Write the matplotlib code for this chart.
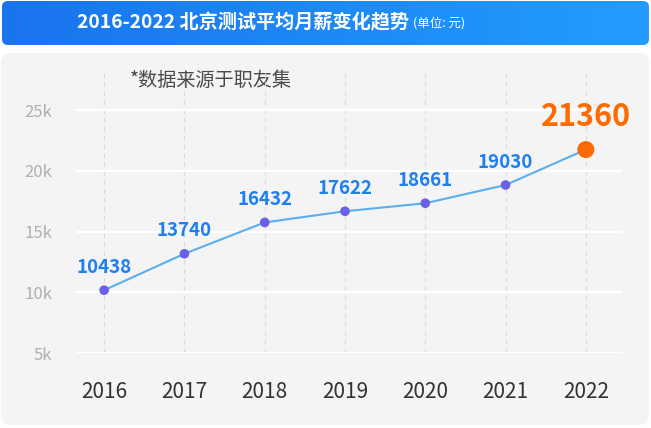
import numpy as np
import matplotlib
matplotlib.use("Agg")
import matplotlib.pyplot as plt
from matplotlib.patches import FancyBboxPatch

plt.rcParams['font.family'] = ['Noto Sans CJK SC', 'DejaVu Sans']

years = ['2016', '2017', '2018', '2019', '2020', '2021', '2022']
salary_labels = ['10438', '13740', '16432', '17622', '18661', '19030', '21360']
# point heights as drawn in the picture (not exactly the label values)
salary_y = [10170, 13170, 15750, 16670, 17330, 18830, 21750]
y_ticks = [5000, 10000, 15000, 20000, 25000]
y_tick_labels = ['5k', '10k', '15k', '20k', '25k']

title = '2016-2022 北京测试平均月薪变化趋势'
unit = '(单位: 元)'
note = '*数据来源于职友集'

fig = plt.figure(figsize=(6.51, 4.28), dpi=100)
fig.patch.set_facecolor('white')

# header banner with a horizontal gradient
bg = fig.add_axes([0, 0, 1, 1], zorder=-5)
bg.set_xlim(0, 651)
bg.set_ylim(428, 0)
bg.axis('off')
grad = np.linspace(0, 1, 256)[None, :]
cmap = matplotlib.colors.LinearSegmentedColormap.from_list('hdr', ['#1a74ee', '#229dff'])
im = bg.imshow(grad, extent=[0, 651, 46, 0], aspect='auto', cmap=cmap)
clip = FancyBboxPatch((2, 1), 647, 44, boxstyle='round,pad=0,rounding_size=6',
                      transform=bg.transData, facecolor='none', edgecolor='none')
bg.add_patch(clip)
im.set_clip_path(clip)
bg.add_patch(FancyBboxPatch((1, 53), 648, 372, boxstyle='round,pad=0,rounding_size=10',
                            facecolor='#f4f4f4', edgecolor='none'))
t = bg.text(77, 23, title, color='white', fontsize=13.8, fontweight='bold', va='center', ha='left')
bg.annotate(unit, xy=(1, 0.5), xycoords=t, xytext=(4, 0), textcoords='offset pixels',
            color='white', fontsize=9, va='center', ha='left')
bg.text(130, 80, note, color='#4a4a4a', fontsize=13.8, va='center', ha='left')

ax = fig.add_axes([76 / 651, 75 / 428, 546 / 651, 283 / 428])
ax.set_facecolor('none')
x = np.arange(len(years))
ax.set_xlim(-0.35, 6.45)
ax.set_ylim(5000, 28300)
for s in ax.spines.values():
    s.set_visible(False)

for yt in y_ticks:
    ax.axhline(yt, color='white', lw=1.6, zorder=1)
for xi in x:
    ax.axvline(xi, color='#dadada', lw=0.8, ls=(0, (4, 4)), zorder=0.5)

ax.plot(x, salary_y, color='#5aaff0', lw=1.5, zorder=3)
ax.scatter(x[:-1], salary_y[:-1], s=48, color='#6a5fe6', zorder=4, edgecolors='none')
ax.scatter(x[-1:], salary_y[-1:], s=150, color='#ff6a00', zorder=4, edgecolors='none')

for i in range(len(years) - 1):
    ax.annotate(salary_labels[i], (x[i], salary_y[i]), xytext=(0, 23), textcoords='offset pixels',
                ha='center', va='center', color='#1e7ff0', fontsize=13.5, fontweight='bold')
ax.annotate(salary_labels[-1], (x[-1], salary_y[-1]), xytext=(0, 33), textcoords='offset pixels',
            ha='center', va='center', color='#ff6a00', fontsize=22, fontweight='bold')

ax.set_xticks(x)
ax.set_xticklabels(years, fontsize=15, color='#333333')
ax.set_yticks(y_ticks)
ax.set_yticklabels(y_tick_labels, fontsize=12, color='#b0b0b0')
ax.tick_params(axis='x', length=0, pad=20)
ax.tick_params(axis='y', length=0, pad=17)

fig.savefig('out.png', dpi=100)
